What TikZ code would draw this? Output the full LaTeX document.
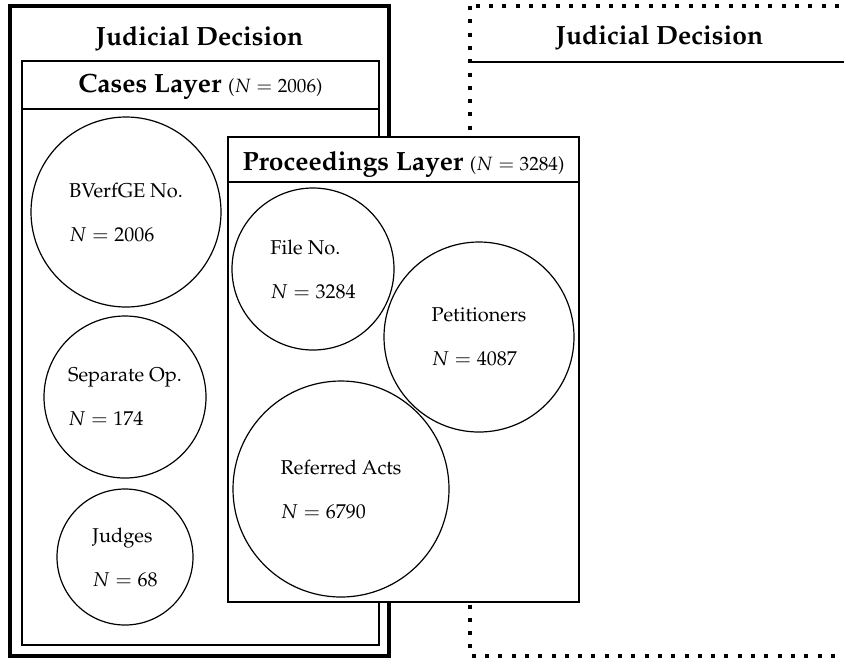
\documentclass[tikz,border=0pt]{standalone}
\usepackage[T1]{fontenc}
\usepackage{mathpazo}
\usepackage{amsmath}
\usepackage{tikz}
\usetikzlibrary{positioning}

\begin{document}
\begin{tikzpicture}[x=0.5pt, y=-0.5pt,
		layer/.style={draw, line width=0.6pt, fill=white},
		entity/.style={draw, circle, line width=0.6pt, align=left, inner sep=0pt},
		title/.style={font=\fontsize{13.2}{16}\selectfont\bfseries, inner sep=0pt, anchor=base}]
				\useasboundingbox (0,0) rectangle (844,660);
				\clip (0,0) rectangle (844,660);
				% first decision
				\draw[line width=2.4pt] (10,6) rectangle (389,656);
				\node[title] (decA) at (199.5,45) {Judicial Decision};
				\coordinate (CA) at (22,61);
				\coordinate (CB) at (379,645);
				\draw[layer] (CA) rectangle (CB);
				\draw[layer] (22,109) -- (379,109);
				\node[title] (cases) at (200.5,92) {Cases Layer {\fontsize{9.6}{12}\selectfont\mdseries($N = 2006$)}};
				\node[entity, minimum size=95pt] (bverfge) at (126,212) {BVerfGE No.\\[10pt]$N = 2006$};
				\node[entity, minimum size=81pt] (sepop) at (125,397) {Separate Op.\\[10pt]$N = 174$};
				\node[entity, minimum size=68pt] (judges) at (125,557) {Judges\\[10pt]$N = 68$};
				% second decision
				\draw[line width=2pt, dash pattern=on 2pt off 4.65pt] (470,6) rectangle (849,656);
				\draw[line width=0.6pt] (470,62) -- (849,62);
				\node[title] (decB) at (659.5,44) {Judicial Decision};
				% proceedings
				\coordinate (PA) at (228,137);
				\coordinate (PB) at (579,602);
				\draw[layer] (PA) rectangle (PB);
				\draw[layer] (228,182) -- (579,182);
				\node[title] (proc) at (403.5,170) {Proceedings Layer {\fontsize{9.6}{12}\selectfont\mdseries($N = 3284$)}};
				\node[entity, minimum size=81pt] (fileno) at (313,269) {File No.\\[10pt]$N = 3284$};
				\node[entity, minimum size=95pt] (petit) at (479,337) {Petitioners\\[10pt]$N = 4087$};
				\node[entity, minimum size=108pt] (acts) at (341,489) {Referred Acts\\[10pt]$N = 6790$};
			\end{tikzpicture}
\end{document}
